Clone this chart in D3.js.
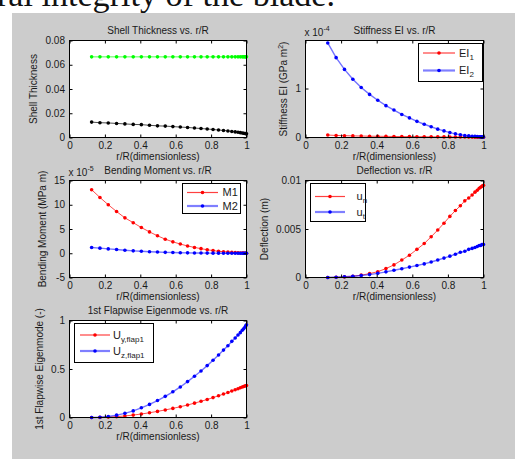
<!DOCTYPE html>
<html><head><meta charset="utf-8">
<script src="https://cdn.jsdelivr.net/npm/d3@7"></script>
<style>
body{margin:0;background:#fff;}
svg{display:block;}
text{font-family:"Liberation Sans",Arial,sans-serif;}
</style>
</head><body>
<svg id="c" width="515" height="459"></svg>
<script>
// ---- data ----
const rR = [0.125,0.172,0.219,0.266,0.313,0.360,0.406,0.452,0.497,0.541,0.584,0.626,0.667,0.706,0.743,0.778,0.811,0.842,0.870,0.895,0.917,0.936,0.952,0.965,0.976,0.984,0.991,0.996,1.0];

const thickGreen = [0.0665,0.0665,0.0665,0.0665,0.0665,0.0665,0.0665,0.0665,0.0665,0.0665,0.0665,0.0665,0.0665,0.0665,0.0665,0.0665,0.0665,0.0665,0.0665,0.0665,0.0665,0.0665,0.0665,0.0665,0.0665,0.0665,0.0665,0.0665,0.0665];
const thickBlack = [0.0127,0.0122,0.0120,0.0116,0.0112,0.0108,0.0106,0.0101,0.0096,0.0094,0.0090,0.0086,0.0083,0.0078,0.0074,0.0070,0.0066,0.0062,0.0058,0.0054,0.0050,0.0046,0.0043,0.0040,0.0037,0.0035,0.0033,0.0032,0.0031];

// stiffness, units of 1e-4 GPa m^2
const EI1 = [0.050,0.042,0.037,0.033,0.030,0.027,0.025,0.023,0.021,0.019,0.018,0.016,0.015,0.014,0.013,0.012,0.011,0.010,0.009,0.009,0.008,0.008,0.007,0.007,0.006,0.006,0.006,0.005,0.005];
const EI2 = [1.93,1.63,1.39,1.19,1.02,0.88,0.76,0.65,0.56,0.47,0.40,0.33,0.27,0.22,0.17,0.135,0.10,0.075,0.055,0.042,0.033,0.026,0.022,0.018,0.015,0.013,0.012,0.011,0.010];

// bending moment, units of 1e-5 MPa m
const M1 = [13.1,11.5,10.0,8.6,7.3,6.3,5.3,4.4,3.6,2.9,2.35,1.9,1.5,1.2,0.95,0.72,0.55,0.42,0.32,0.24,0.18,0.13,0.09,0.06,0.04,0.025,0.012,0.005,0.0];
const M2 = [1.2,1.05,0.9,0.76,0.62,0.5,0.4,0.32,0.25,0.19,0.15,0.11,0.08,0.06,0.045,0.033,0.024,0.017,0.012,0.008,0.006,0.004,0.003,0.002,0.001,0.001,0,0,0];

// deflection (m)
const un = [0,0.00002,0.00006,0.00013,0.00024,0.0004,0.0006,0.00092,0.0013,0.0018,0.0023,0.0029,0.0035,0.0042,0.0049,0.0056,0.0063,0.0069,0.0074,0.0079,0.0082,0.0085,0.0088,0.0090,0.0092,0.0093,0.0094,0.00945,0.0095];
const ut = [0,0.00003,0.00007,0.00013,0.0002,0.0003,0.00043,0.00058,0.00075,0.0009,0.00107,0.00124,0.0014,0.0016,0.0018,0.002,0.0022,0.0024,0.0026,0.0027,0.0029,0.003,0.0031,0.0032,0.0033,0.0033,0.0034,0.0034,0.0034];

// 1st flapwise eigenmode
const Uy = [0,0.001,0.004,0.009,0.016,0.025,0.036,0.049,0.063,0.078,0.094,0.111,0.129,0.148,0.167,0.186,0.205,0.224,0.242,0.258,0.273,0.286,0.297,0.306,0.314,0.32,0.325,0.328,0.33];
const Uz = [0,0.003,0.01,0.024,0.043,0.068,0.10,0.135,0.175,0.218,0.265,0.315,0.37,0.425,0.48,0.535,0.59,0.645,0.695,0.74,0.785,0.82,0.85,0.875,0.9,0.915,0.93,0.945,0.955];

const xTicks = [0,0.2,0.4,0.6,0.8,1];
const xTickLabels = ["0","0.2","0.4","0.6","0.8","1"];
const yTicksThick = [0,0.02,0.04,0.06,0.08];
const yLabelsThick = ["0","0.02","0.04","0.06","0.08"];
const yTicksEI = [0,1];
const yLabelsEI = ["0","1"];
const yTicksM = [-5,0,5,10,15];
const yLabelsM = ["-5","0","5","10","15"];
const yTicksDef = [0,0.005,0.01];
const yLabelsDef = ["0","0.005","0.01"];
const yTicksMode = [0,0.5,1];
const yLabelsMode = ["0","0.5","1"];

const titles = ["Shell Thickness vs. r/R","Stiffness EI vs. r/R","Bending Moment vs. r/R","Deflection vs. r/R","1st Flapwise Eigenmode vs. r/R"];
const xLabel = "r/R(dimensionless)";

// ---- layout ----
const svg = d3.select("#c");
svg.append("text").attr("x",-3).attr("y",6)
  .style("font-family","'Liberation Serif','Times New Roman',serif")
  .attr("font-size",33).attr("textLength",338).attr("lengthAdjust","spacingAndGlyphs")
  .attr("fill","#111").text("ral integrity of the blade.");
svg.append("rect").attr("x",12).attr("y",13).attr("width",503).attr("height",446).attr("fill","#cccccc");

const RED="#ff0000", BLUE="#0000ff";

const panels = [
  {title:titles[0], x0:69.5,x1:246.5,y0:40.5,y1:137.5, yDom:[0,0.08], yT:yTicksThick, yL:yLabelsThick,
   ylab:[{t:"Shell Thickness"}], ylabX:33,
   series:[{v:thickGreen,c:"#00ff00"},{v:thickBlack,c:"#000000"}]},
  {title:titles[1], x0:305.5,x1:483.5,y0:40.5,y1:137.5, yDom:[0,1.98], yT:yTicksEI, yL:yLabelsEI,
   ylab:[{t:"Stiffness EI (GPa m"},{t:"2",sup:true},{t:")"}], ylabX:283, mult:"-4",
   series:[{v:EI1,c:RED},{v:EI2,c:BLUE}],
   legend:{x:418.5,y:43.5,w:64,h:38,lx0:423,lx1:455,tx:459,rows:[53,70.5],
     items:[{c:RED,m:"EI",s:"1"},{c:BLUE,m:"EI",s:"2"}]}},
  {title:titles[2], x0:69.5,x1:246.5,y0:180.5,y1:277.5, yDom:[-5,15], yT:yTicksM, yL:yLabelsM,
   ylab:[{t:"Bending Moment (MPa m)"}], ylabX:42, mult:"-5",
   series:[{v:M1,c:RED},{v:M2,c:BLUE}],
   legend:{x:182.5,y:183.5,w:58,h:30,lx0:187,lx1:218,tx:222.5,rows:[192.5,206],
     items:[{c:RED,m:"M1"},{c:BLUE,m:"M2"}]}},
  {title:titles[3], x0:305.5,x1:483.5,y0:180.5,y1:277.5, yDom:[0,0.01], yT:yTicksDef, yL:yLabelsDef,
   ylab:[{t:"Deflection (m)"}], ylabX:264,
   series:[{v:un,c:RED},{v:ut,c:BLUE}],
   legend:{x:310.5,y:183.5,w:55,h:38,lx0:315,lx1:345,tx:356.5,rows:[196.5,212],
     items:[{c:RED,m:"u",s:"n"},{c:BLUE,m:"u",s:"t"}]}},
  {title:titles[4], x0:69.5,x1:246.5,y0:320.5,y1:417.5, yDom:[0,1], yT:yTicksMode, yL:yLabelsMode,
   ylab:[{t:"1st Flapwise Eigenmode (-)"}], ylabX:39,
   series:[{v:Uy,c:RED},{v:Uz,c:BLUE}],
   legend:{x:74.5,y:323.5,w:79,h:39,lx0:80,lx1:110,tx:113,rows:[335,351],
     items:[{c:RED,m:"U",s:"y,flap1"},{c:BLUE,m:"U",s:"z,flap1"}]}}
];

const TXT="#1a1a1a";

panels.forEach(p=>{
  const g = svg.append("g");
  const x = d3.scaleLinear().domain([0,1]).range([p.x0,p.x1]);
  const y = d3.scaleLinear().domain(p.yDom).range([p.y1,p.y0]);
  g.append("rect").attr("x",p.x0).attr("y",p.y0).attr("width",p.x1-p.x0).attr("height",p.y1-p.y0).attr("fill","#fff");

  // series
  p.series.forEach(s=>{
    const pts = rR.map((r,i)=>[r,s.v[i]]);
    g.append("path").datum(pts)
      .attr("d",d3.line().x(d=>x(d[0])).y(d=>y(d[1])))
      .attr("fill","none").attr("stroke",s.c)
      .attr("stroke-width", s.c===BLUE?1.4:1).attr("stroke-opacity", s.c===BLUE?0.55:0.7);
    g.selectAll(null).data(pts).enter().append("circle")
      .attr("cx",d=>x(d[0])).attr("cy",d=>y(d[1])).attr("r",1.8).attr("fill",s.c);
  });

  // axes
  const styleAxis = sel=>{
    sel.select(".domain").remove();
    sel.selectAll("line").attr("stroke","#000");
    sel.selectAll("text").attr("fill",TXT).attr("font-size",10).attr("font-family","'Liberation Sans',Arial,sans-serif");
    sel.attr("font-family",null).attr("font-size",null);
  };
  g.append("g").attr("transform",`translate(0,${p.y1})`)
    .call(d3.axisBottom(x).tickValues(xTicks).tickFormat((d,i)=>xTickLabels[i]).tickSize(-3).tickPadding(4.5)).call(styleAxis);
  g.append("g").attr("transform",`translate(0,${p.y0})`)
    .call(d3.axisTop(x).tickValues(xTicks).tickFormat("").tickSize(-3)).call(styleAxis);
  g.append("g").attr("transform",`translate(${p.x0},0)`)
    .call(d3.axisLeft(y).tickValues(p.yT).tickFormat((d,i)=>p.yL[i]).tickSize(-3).tickPadding(4.5)).call(styleAxis);
  g.append("g").attr("transform",`translate(${p.x1},0)`)
    .call(d3.axisRight(y).tickValues(p.yT).tickFormat("").tickSize(-3)).call(styleAxis);
  g.append("rect").attr("x",p.x0).attr("y",p.y0).attr("width",p.x1-p.x0).attr("height",p.y1-p.y0)
    .attr("fill","none").attr("stroke","#000").attr("stroke-width",1);

  // title
  g.append("text").attr("x",(p.x0+p.x1)/2).attr("y",p.y0-6.5).attr("text-anchor","middle")
    .attr("font-size",10).attr("fill",TXT).text(p.title);
  // x label
  g.append("text").attr("x",(p.x0+p.x1)/2).attr("y",p.y1+22).attr("text-anchor","middle")
    .attr("font-size",10).attr("fill",TXT).text(xLabel);
  // y label
  const yl = g.append("text").attr("transform",`translate(${p.ylabX},${(p.y0+p.y1)/2}) rotate(-90)`)
    .attr("text-anchor","middle").attr("dy","0.35em").attr("font-size",10).attr("fill",TXT);
  p.ylab.forEach(seg=>{
    const t = yl.append("tspan").text(seg.t);
    if(seg.sup) t.attr("font-size",7).attr("dy","-4");
    else if(seg.t===")") t.attr("dy","4");
  });
  // multiplier
  if(p.mult){
    const m = g.append("text").attr("x",p.x0-1).attr("y",p.y0-5).attr("font-size",10).attr("fill",TXT);
    m.append("tspan").text("x 10");
    m.append("tspan").attr("font-size",7).attr("dy",-5).text(p.mult);
  }
  // legend
  if(p.legend){
    const L = p.legend;
    const lg = g.append("g");
    lg.append("rect").attr("x",L.x).attr("y",L.y).attr("width",L.w).attr("height",L.h)
      .attr("fill","#fff").attr("stroke","#000").attr("stroke-width",1);
    L.items.forEach((it,i)=>{
      const yy = L.rows[i];
      lg.append("line").attr("x1",L.lx0).attr("x2",L.lx1).attr("y1",yy).attr("y2",yy)
        .attr("stroke",it.c).attr("stroke-width", it.c===BLUE?2.2:1.2).attr("stroke-opacity", it.c===BLUE?0.5:0.75);
      lg.append("circle").attr("cx",(L.lx0+L.lx1)/2).attr("cy",yy).attr("r",1.8).attr("fill",it.c);
      const t = lg.append("text").attr("x",L.tx).attr("y",yy+3.8).attr("font-size",11).attr("fill",TXT);
      t.append("tspan").text(it.m);
      if(it.s) t.append("tspan").attr("font-size",8).attr("dy",3).text(it.s);
    });
  }
});
</script>
</body></html>
